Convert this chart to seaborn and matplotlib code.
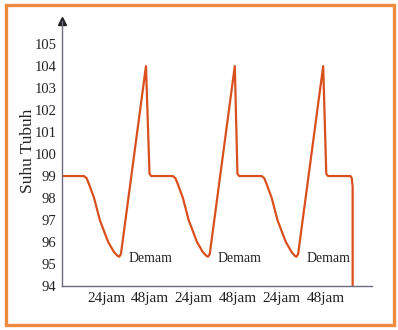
import matplotlib
matplotlib.use("Agg")
import matplotlib.pyplot as plt
import seaborn as sns
import pandas as pd
from matplotlib.patches import Rectangle

# ---- data (x in 24-hour units from the y axis, y in degrees) ----
time_units = [0.00, 0.50, 0.56, 0.62, 0.73, 0.86, 1.05, 1.18, 1.26, 1.30, 1.34, 1.91, 1.99, 2.03,
              2.52, 2.58, 2.64, 2.75, 2.88, 3.07, 3.20, 3.28, 3.32, 3.36, 3.93, 3.99, 4.03,
              4.54, 4.60, 4.66, 4.77, 4.90, 5.09, 5.22, 5.29, 5.33, 5.37, 5.94, 6.01, 6.05,
              6.56, 6.59, 6.61, 6.61]
temperature = [99.0, 99.0, 98.9, 98.6, 98.0, 97.0, 96.0, 95.55, 95.38, 95.33, 95.45, 104.0, 99.1, 99.0,
               99.0, 98.9, 98.6, 98.0, 97.0, 96.0, 95.55, 95.38, 95.33, 95.45, 104.0, 99.1, 99.0,
               99.0, 98.9, 98.6, 98.0, 97.0, 96.0, 95.55, 95.38, 95.33, 95.45, 104.0, 99.1, 99.0,
               99.0, 98.9, 98.5, 94.0]
x_ticks = [1, 2, 3, 4, 5, 6]
x_tick_labels = ["24jam", "48jam", "24jam", "48jam", "24jam", "48jam"]
y_ticks = list(range(94, 106))
note_x = [1.51, 3.53, 5.55]
note_y = [95.27, 95.27, 95.27]
note_text = ["Demam", "Demam", "Demam"]

sns.set_style("white")
plt.rcParams["font.family"] = ["Liberation Serif", "DejaVu Serif"]

fig = plt.figure(figsize=(3.98, 3.30), dpi=100)
ax = fig.add_axes([62/398, 44/330, 310/398, 265/330])

df = pd.DataFrame({"t": time_units, "temp": temperature})
sns.lineplot(data=df, x="t", y="temp", sort=False, ax=ax, color="#d9501e", lw=1.6, estimator=None)

axis_col = "#6a6a80"
ax.set_xlim(0, 7.05)
ax.set_ylim(94, 106.05)
for s in ["top", "right"]:
    ax.spines[s].set_visible(False)
for s in ["left", "bottom"]:
    ax.spines[s].set_color(axis_col)
    ax.spines[s].set_linewidth(1.0)

ax.set_xticks(x_ticks)
ax.set_xticklabels(x_tick_labels, fontsize=11)
ax.set_yticks(y_ticks)
ax.set_yticklabels([str(v) for v in y_ticks], fontsize=10.5)
ax.tick_params(axis="both", direction="inout", length=4, width=1, color=axis_col, pad=2, labelcolor="#222222")
ax.set_xlabel("")
ax.set_ylabel("Suhu Tubuh", fontsize=12.5, color="#222222")
ax.yaxis.set_label_coords(-0.083, 0.51)

ax.plot(1, 0, ">", color="#222222", ms=6, transform=ax.get_yaxis_transform(), clip_on=False)
ax.plot(0, 1, "^", color="#222222", ms=6, transform=ax.get_xaxis_transform(), clip_on=False)

for x, y, t in zip(note_x, note_y, note_text):
    ax.text(x, y, t, fontsize=10, ha="left", va="center", color="#222222")

fig.patches.append(Rectangle((5.5/398, 5/330), 388/398, 320/330, transform=fig.transFigure,
                             fill=False, edgecolor="#ef8b3d", lw=2.4))

fig.savefig("out.png", dpi=100)
